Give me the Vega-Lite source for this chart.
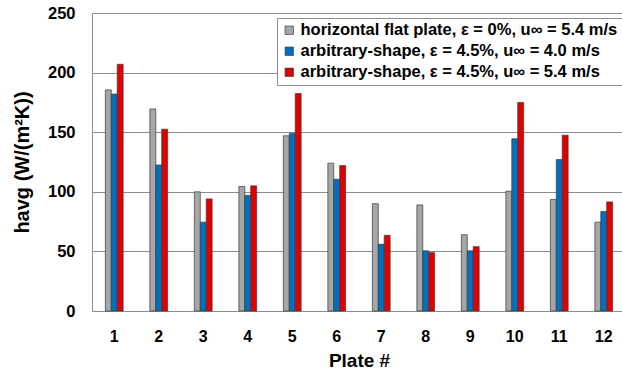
{
  "$schema": "https://vega.github.io/schema/vega-lite/v6.json",
  "width": 534,
  "height": 298,
  "autosize": {"type": "none"},
  "padding": {"left": 92, "top": 13, "right": 0, "bottom": 64},
  "background": "white",
  "config": {
    "font": "Liberation Sans",
    "view": {"stroke": "#8c8c8c", "strokeWidth": 1}
  },
  "data": {
    "values": [
      {"plate": "1", "series": "horizontal flat plate, ε = 0%, u∞ = 5.4 m/s", "h": 185.5},
      {"plate": "1", "series": "arbitrary-shape, ε = 4.5%, u∞ = 4.0 m/s", "h": 182},
      {"plate": "1", "series": "arbitrary-shape, ε = 4.5%, u∞ = 5.4 m/s", "h": 207},
      {"plate": "2", "series": "horizontal flat plate, ε = 0%, u∞ = 5.4 m/s", "h": 169.5},
      {"plate": "2", "series": "arbitrary-shape, ε = 4.5%, u∞ = 4.0 m/s", "h": 122.5},
      {"plate": "2", "series": "arbitrary-shape, ε = 4.5%, u∞ = 5.4 m/s", "h": 152.5},
      {"plate": "3", "series": "horizontal flat plate, ε = 0%, u∞ = 5.4 m/s", "h": 100},
      {"plate": "3", "series": "arbitrary-shape, ε = 4.5%, u∞ = 4.0 m/s", "h": 74.5},
      {"plate": "3", "series": "arbitrary-shape, ε = 4.5%, u∞ = 5.4 m/s", "h": 94},
      {"plate": "4", "series": "horizontal flat plate, ε = 0%, u∞ = 5.4 m/s", "h": 104.5},
      {"plate": "4", "series": "arbitrary-shape, ε = 4.5%, u∞ = 4.0 m/s", "h": 97},
      {"plate": "4", "series": "arbitrary-shape, ε = 4.5%, u∞ = 5.4 m/s", "h": 105},
      {"plate": "5", "series": "horizontal flat plate, ε = 0%, u∞ = 5.4 m/s", "h": 147},
      {"plate": "5", "series": "arbitrary-shape, ε = 4.5%, u∞ = 4.0 m/s", "h": 149},
      {"plate": "5", "series": "arbitrary-shape, ε = 4.5%, u∞ = 5.4 m/s", "h": 182.5},
      {"plate": "6", "series": "horizontal flat plate, ε = 0%, u∞ = 5.4 m/s", "h": 124},
      {"plate": "6", "series": "arbitrary-shape, ε = 4.5%, u∞ = 4.0 m/s", "h": 110.5},
      {"plate": "6", "series": "arbitrary-shape, ε = 4.5%, u∞ = 5.4 m/s", "h": 122},
      {"plate": "7", "series": "horizontal flat plate, ε = 0%, u∞ = 5.4 m/s", "h": 90},
      {"plate": "7", "series": "arbitrary-shape, ε = 4.5%, u∞ = 4.0 m/s", "h": 56},
      {"plate": "7", "series": "arbitrary-shape, ε = 4.5%, u∞ = 5.4 m/s", "h": 63.5},
      {"plate": "8", "series": "horizontal flat plate, ε = 0%, u∞ = 5.4 m/s", "h": 89},
      {"plate": "8", "series": "arbitrary-shape, ε = 4.5%, u∞ = 4.0 m/s", "h": 50.5},
      {"plate": "8", "series": "arbitrary-shape, ε = 4.5%, u∞ = 5.4 m/s", "h": 49},
      {"plate": "9", "series": "horizontal flat plate, ε = 0%, u∞ = 5.4 m/s", "h": 64},
      {"plate": "9", "series": "arbitrary-shape, ε = 4.5%, u∞ = 4.0 m/s", "h": 50.5},
      {"plate": "9", "series": "arbitrary-shape, ε = 4.5%, u∞ = 5.4 m/s", "h": 54},
      {"plate": "10", "series": "horizontal flat plate, ε = 0%, u∞ = 5.4 m/s", "h": 100.5},
      {"plate": "10", "series": "arbitrary-shape, ε = 4.5%, u∞ = 4.0 m/s", "h": 144.5},
      {"plate": "10", "series": "arbitrary-shape, ε = 4.5%, u∞ = 5.4 m/s", "h": 175},
      {"plate": "11", "series": "horizontal flat plate, ε = 0%, u∞ = 5.4 m/s", "h": 93.5},
      {"plate": "11", "series": "arbitrary-shape, ε = 4.5%, u∞ = 4.0 m/s", "h": 127},
      {"plate": "11", "series": "arbitrary-shape, ε = 4.5%, u∞ = 5.4 m/s", "h": 147.5},
      {"plate": "12", "series": "horizontal flat plate, ε = 0%, u∞ = 5.4 m/s", "h": 74.5},
      {"plate": "12", "series": "arbitrary-shape, ε = 4.5%, u∞ = 4.0 m/s", "h": 83.5},
      {"plate": "12", "series": "arbitrary-shape, ε = 4.5%, u∞ = 5.4 m/s", "h": 91.5}
    ]
  },
  "mark": {"type": "bar", "stroke": "#3a3a3a", "strokeWidth": 0.7},
  "encoding": {
    "x": {
      "field": "plate",
      "type": "ordinal",
      "sort": ["1","2","3","4","5","6","7","8","9","10","11","12"],
      "scale": {"paddingInner": 0.6, "paddingOuter": 0.3},
      "axis": {
        "title": "Plate #",
        "titleFontSize": 19,
        "titleFontWeight": "bold",
        "titleColor": "#000",
        "titlePadding": 7,
        "labelFontSize": 16,
        "labelFontWeight": "bold",
        "labelColor": "#000",
        "labelAngle": 0,
        "labelPadding": 17,
        "ticks": false,
        "domain": false
      }
    },
    "xOffset": {
      "field": "series",
      "type": "nominal",
      "sort": ["horizontal flat plate, ε = 0%, u∞ = 5.4 m/s", "arbitrary-shape, ε = 4.5%, u∞ = 4.0 m/s", "arbitrary-shape, ε = 4.5%, u∞ = 5.4 m/s"]
    },
    "y": {
      "field": "h",
      "type": "quantitative",
      "scale": {"domain": [0, 250], "nice": false},
      "axis": {
        "title": "havg (W/(m²K))",
        "titleFontSize": 20,
        "titleFontWeight": "bold",
        "titleColor": "#000",
        "titlePadding": 15,
        "values": [0, 50, 100, 150, 200, 250],
        "labelFontSize": 16.5,
        "labelFontWeight": "bold",
        "labelColor": "#000",
        "labelPadding": 17,
        "ticks": false,
        "domain": false,
        "grid": true,
        "gridColor": "#8c8c8c",
        "gridWidth": 1
      }
    },
    "color": {
      "field": "series",
      "type": "nominal",
      "scale": {
        "domain": ["horizontal flat plate, ε = 0%, u∞ = 5.4 m/s", "arbitrary-shape, ε = 4.5%, u∞ = 4.0 m/s", "arbitrary-shape, ε = 4.5%, u∞ = 5.4 m/s"],
        "range": ["#a6a6a6", "#0070c0", "#e00000"]
      },
      "legend": {
        "title": null,
        "orient": "none",
        "legendX": 185,
        "legendY": 5,
        "fillColor": "white",
        "strokeColor": "#8c8c8c",
        "padding": 4,
        "symbolType": "square",
        "symbolSize": 70,
        "symbolStrokeColor": "#3a3a3a",
        "symbolStrokeWidth": 0.7,
        "labelFontSize": 16.5,
        "labelFontWeight": "bold",
        "labelColor": "#000",
        "labelLimit": 400,
        "labelOffset": 3,
        "rowPadding": 4
      }
    }
  }
}
